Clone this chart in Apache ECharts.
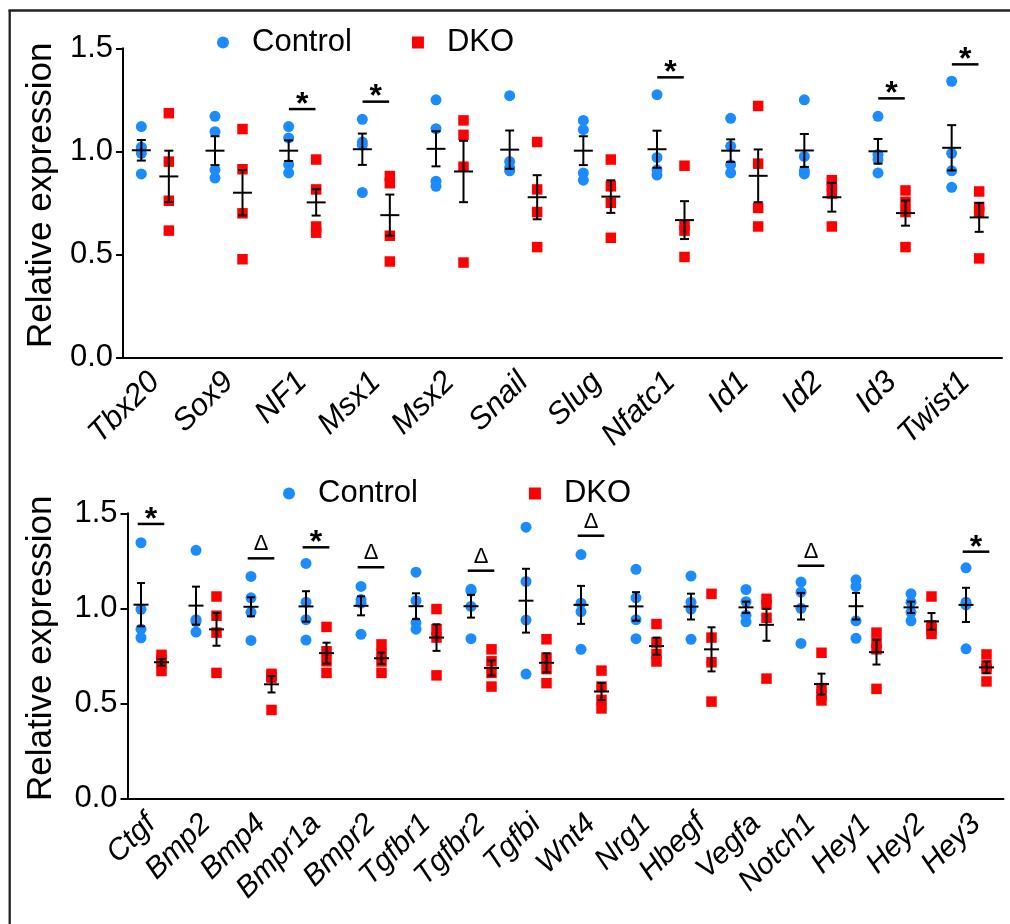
<!DOCTYPE html>
<html><head><meta charset="utf-8">
<script src="https://cdn.jsdelivr.net/npm/echarts@6/dist/echarts.min.js"></script>
<style>html,body{margin:0;padding:0;background:#fff}#c{width:1010px;height:924px}</style>
</head><body><div id="c"></div>
<script>
// ---------- Top panel data ----------
const topGenes = ['Tbx20','Sox9','NF1','Msx1','Msx2','Snail','Slug','Nfatc1','Id1','Id2','Id3','Twist1'];
const topControl = [
  [1.12, 1.02, 0.99, 0.89],
  [1.17, 1.095, 0.91, 0.87],
  [1.12, 1.065, 0.935, 0.895],
  [1.155, 1.045, 1.03, 0.80],
  [1.25, 1.11, 0.855, 0.83],
  [1.27, 0.95, 0.92, 0.905],
  [1.15, 1.105, 0.895, 0.86],
  [1.275, 0.97, 0.91, 0.885],
  [1.16, 1.025, 0.935, 0.895],
  [1.25, 0.975, 0.905, 0.89],
  [1.17, 0.985, 0.96, 0.895],
  [1.34, 0.99, 0.905, 0.825]
];
const topDKO = [
  [1.185, 0.95, 0.76, 0.615],
  [1.108, 0.913, 0.699, 0.476],
  [0.96, 0.815, 0.635, 0.605],
  [0.88, 0.845, 0.59, 0.465],
  [1.15, 1.08, 0.925, 0.46],
  [1.045, 0.815, 0.705, 0.535],
  [0.96, 0.83, 0.75, 0.58],
  [0.93, 0.64, 0.615, 0.487],
  [1.22, 0.94, 0.725, 0.635],
  [0.86, 0.83, 0.795, 0.635],
  [0.81, 0.755, 0.705, 0.535],
  [0.805, 0.73, 0.705, 0.48]
];
const topControlMean = [1.005, 1.003, 1.003, 1.01, 1.012, 1.008, 1.003, 1.01, 1.003, 1.004, 1.0, 1.017];
const topControlSEM  = [0.05, 0.07, 0.05, 0.076, 0.085, 0.093, 0.07, 0.09, 0.055, 0.08, 0.06, 0.11];
const topDKOMean = [0.878, 0.799, 0.752, 0.69, 0.902, 0.777, 0.78, 0.666, 0.881, 0.777, 0.70, 0.679];
const topDKOSEM  = [0.125, 0.11, 0.064, 0.10, 0.149, 0.107, 0.079, 0.092, 0.128, 0.07, 0.061, 0.07];
const topSigMark   = ['', '', '*', '*', '', '', '', '*', '', '', '*', '*'];
const topSigHeight = [null, null, 1.205, 1.241, null, null, null, 1.359, null, null, 1.257, 1.422];

// ---------- Bottom panel data ----------
const botGenes = ['Ctgf','Bmp2','Bmp4','Bmpr1a','Bmpr2','Tgfbr1','Tgfbr2','Tgfbi','Wnt4','Nrg1','Hbegf','Vegfa','Notch1','Hey1','Hey2','Hey3'];
const botControl = [
  [1.345, 0.995, 0.89, 0.845],
  [1.305, 0.94, 0.93, 0.875],
  [1.168, 1.055, 0.979, 0.831],
  [1.236, 1.032, 0.94, 0.833],
  [1.115, 1.046, 1.027, 0.863],
  [1.19, 1.04, 0.925, 0.89],
  [1.10, 1.09, 1.01, 0.84],
  [1.427, 1.141, 0.938, 0.654],
  [1.283, 1.027, 0.982, 0.784],
  [1.205, 1.055, 0.94, 0.84],
  [1.17, 1.032, 0.996, 0.837],
  [1.099, 1.035, 0.964, 0.929],
  [1.138, 1.085, 1.0, 0.815],
  [1.15, 1.115, 0.934, 0.842],
  [1.076, 1.032, 0.979, 0.934],
  [1.213, 1.032, 1.018, 0.787]
];
const botDKO = [
  [0.755, 0.73, 0.71, 0.67],
  [1.062, 0.961, 0.872, 0.66],
  [0.655, 0.645, 0.635, 0.465],
  [0.902, 0.774, 0.721, 0.66],
  [0.81, 0.76, 0.72, 0.66],
  [0.996, 0.89, 0.846, 0.647],
  [0.784, 0.721, 0.66, 0.588],
  [0.837, 0.74, 0.68, 0.606],
  [0.672, 0.588, 0.518, 0.473],
  [0.917, 0.82, 0.76, 0.72],
  [1.076, 0.846, 0.716, 0.509],
  [1.05, 1.02, 0.95, 0.63],
  [0.766, 0.58, 0.545, 0.515],
  [0.872, 0.819, 0.784, 0.576],
  [1.062, 0.91, 0.89, 0.865],
  [0.757, 0.70, 0.68, 0.615]
];
const botControlMean = [1.019, 1.014, 1.008, 1.01, 1.013, 1.011, 1.011, 1.04, 1.018, 1.01, 1.009, 1.005, 1.011, 1.011, 1.005, 1.018];
const botControlSEM  = [0.114, 0.10, 0.05, 0.08, 0.05, 0.068, 0.06, 0.168, 0.10, 0.075, 0.068, 0.03, 0.07, 0.07, 0.03, 0.09];
const botDKOMean = [0.716, 0.889, 0.60, 0.764, 0.737, 0.846, 0.686, 0.713, 0.562, 0.801, 0.784, 0.913, 0.601, 0.769, 0.931, 0.689];
const botDKOSEM  = [0.018, 0.086, 0.043, 0.055, 0.03, 0.07, 0.04, 0.05, 0.045, 0.045, 0.116, 0.084, 0.055, 0.065, 0.044, 0.03];
const botSigMark   = ['*', '', 'Δ', '*', 'Δ', '', 'Δ', '', 'Δ', '', '', '', 'Δ', '', '', '*'];
const botSigHeight = [1.444, null, 1.263, 1.321, 1.216, null, 1.198, null, 1.382, null, null, null, 1.224, null, null, 1.298];

const yMin = 0, yMax = 1.5, yStep = 0.5;
const yTitle = 'Relative expression';
const groupNames = ['Control', 'DKO'];

// ---------- styling ----------
const FONT = '"Liberation Sans", Arial, Helvetica, sans-serif';
const BLUE = '#1A8CFF', RED = '#FF0000';

function points(groups) {
  const out = [];
  groups.forEach((g, i) => g.forEach(v => out.push([i, v])));
  return out;
}

function scatter(gi, name, groups, symbol, size, color, dx) {
  return {
    type: 'scatter', name, xAxisIndex: gi, yAxisIndex: gi, z: 2,
    symbol, symbolSize: size, symbolOffset: [dx, 0],
    itemStyle: { color, opacity: 1 },
    data: points(groups), silent: true
  };
}

function errSeries(gi, means, sems, dx, halfMean, halfCap) {
  return {
    type: 'custom', xAxisIndex: gi, yAxisIndex: gi, z: 5, silent: true,
    encode: { x: 0, y: 1 },
    data: means.map((m, i) => [i, m, sems[i]]),
    renderItem(params, api) {
      const x = api.value(0), m = api.value(1), s = api.value(2);
      const c = api.coord([x, m]), t = api.coord([x, m + s]), b = api.coord([x, m - s]);
      const cx = c[0] + dx;
      const st = { stroke: '#000', lineWidth: 2 };
      return { type: 'group', children: [
        { type: 'line', shape: { x1: cx, y1: t[1], x2: cx, y2: b[1] }, style: st },
        { type: 'line', shape: { x1: cx - halfCap, y1: t[1], x2: cx + halfCap, y2: t[1] }, style: st },
        { type: 'line', shape: { x1: cx - halfCap, y1: b[1], x2: cx + halfCap, y2: b[1] }, style: st },
        { type: 'line', shape: { x1: cx - halfMean, y1: c[1], x2: cx + halfMean, y2: c[1] }, style: st }
      ]};
    }
  };
}

function sigSeries(gi, marks, heights, halfW) {
  const data = [];
  marks.forEach((mk, i) => { if (mk) data.push([i, heights[i]]); });
  const labels = marks.filter(mk => mk);
  return {
    type: 'custom', xAxisIndex: gi, yAxisIndex: gi, z: 6, silent: true,
    encode: { x: 0, y: 1 }, data,
    renderItem(params, api) {
      const p = api.coord([api.value(0), api.value(1)]);
      const mk = labels[params.dataIndex];
      const star = mk === '*';
      return { type: 'group', children: [
        { type: 'line', shape: { x1: p[0] - halfW, y1: p[1], x2: p[0] + halfW, y2: p[1] },
          style: { stroke: '#000', lineWidth: 2.5 } },
        { type: 'text', x: p[0], y: p[1] - (star ? 4 : 14),
          style: { text: mk, fill: '#000', align: 'center', verticalAlign: 'middle',
                   font: (star ? 'bold 32px ' : '22px ') + FONT } }
      ]};
    }
  };
}

function xAxisOpt(gi, genes, fontSize, margin) {
  return {
    type: 'category', gridIndex: gi, data: genes, boundaryGap: true,
    axisLine: { lineStyle: { color: '#000', width: 2 } },
    axisTick: { alignWithLabel: true, length: 7, lineStyle: { color: '#000', width: 2 } },
    axisLabel: { rotate: 45, interval: 0, fontSize, fontStyle: 'italic', color: '#000',
                 fontFamily: FONT, margin },
    splitLine: { show: false }
  };
}

function yAxisOpt(gi, offset, nameGap) {
  return {
    type: 'value', gridIndex: gi, min: yMin, max: yMax, interval: yStep, offset,
    name: yTitle, nameLocation: 'middle', nameGap,
    nameTextStyle: { fontSize: 35, color: '#000', fontFamily: FONT, padding: [0, 0, 0, 15] },
    axisLine: { show: true, lineStyle: { color: '#000', width: 2 } },
    axisTick: { show: true, length: 7, lineStyle: { color: '#000', width: 2 } },
    axisLabel: { fontSize: 31, color: '#000', fontFamily: FONT, margin: 10,
                 formatter: v => v.toFixed(1) },
    splitLine: { show: false }
  };
}

function legendOpt(left, top, gap) {
  return {
    data: [{ name: groupNames[0], icon: 'circle' }, { name: groupNames[1], icon: 'rect' }],
    left, top, itemWidth: 12, itemHeight: 12, itemGap: gap, selectedMode: false,
    textStyle: { fontSize: 31, color: '#000', fontFamily: FONT, padding: [0, 0, 0, 18] }
  };
}

const chart = echarts.init(document.getElementById('c'), null, { renderer: 'canvas' });
chart.setOption({
  animation: false,
  backgroundColor: '#fff',
  textStyle: { fontFamily: FONT },
  grid: [
    { left: 118, top: 48.3, width: 884, height: 309 },
    { left: 123.5, top: 513.3, width: 880, height: 285 }
  ],
  xAxis: [xAxisOpt(0, topGenes, 31, 20), xAxisOpt(1, botGenes, 30, 21)],
  yAxis: [yAxisOpt(0, -5, 52), yAxisOpt(1, -4, 69)],
  legend: [legendOpt(212, 22, 60), legendOpt(278, 473, 111)],
  graphic: [
    { type: 'line', shape: { x1: 8.5, y1: 10.5, x2: 1010, y2: 10.5 }, style: { stroke: '#222', lineWidth: 2.3 } },
    { type: 'line', shape: { x1: 9.7, y1: 10, x2: 9.7, y2: 924 }, style: { stroke: '#222', lineWidth: 2.3 } }
  ],
  series: [
    scatter(0, groupNames[0], topControl, 'circle', 11, BLUE, -13.5),
    scatter(0, groupNames[1], topDKO, 'rect', 10.5, RED, 14),
    errSeries(0, topControlMean, topControlSEM, -13.5, 9.5, 4.5),
    errSeries(0, topDKOMean, topDKOSEM, 14, 9.5, 4.5),
    sigSeries(0, topSigMark, topSigHeight, 13.3),
    scatter(1, groupNames[0], botControl, 'circle', 11, BLUE, -10),
    scatter(1, groupNames[1], botDKO, 'rect', 10.5, RED, 10.5),
    errSeries(1, botControlMean, botControlSEM, -10, 7.5, 4),
    errSeries(1, botDKOMean, botDKOSEM, 10.5, 7.5, 4),
    sigSeries(1, botSigMark, botSigHeight, 13.3)
  ]
});
</script>
</body></html>
